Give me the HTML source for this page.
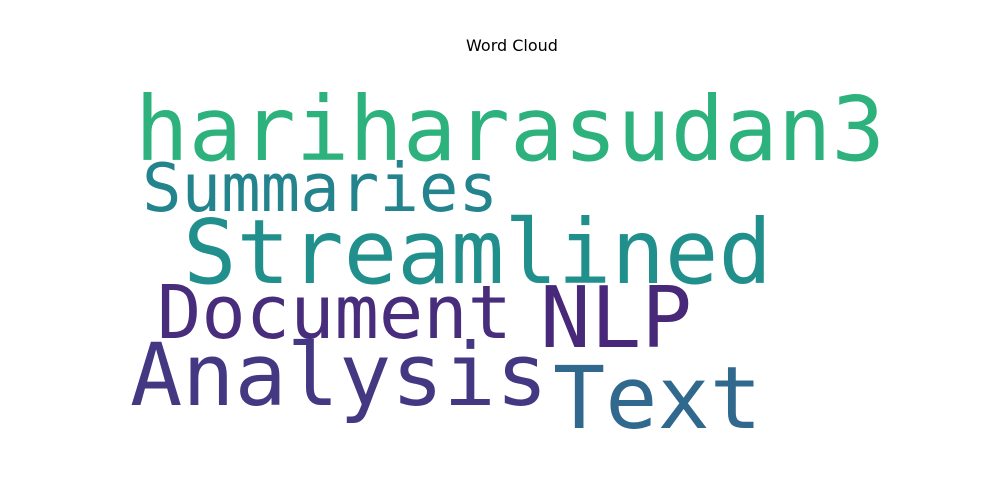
<!DOCTYPE html>
<html><head><meta charset="utf-8"><style>
html,body{margin:0;padding:0;background:#fff;width:1000px;height:500px;overflow:hidden}
svg text{font-family:"DejaVu Sans Mono","Liberation Mono",monospace}
</style></head><body>
<svg id="chart" width="1000" height="500" viewBox="0 0 1000 500">
<text x="512" y="51" text-anchor="middle" style="font-family:'DejaVu Sans','Liberation Sans',sans-serif;font-size:16px" fill="#000">Word Cloud</text>
<g id="words"></g>
</svg>
<script>
const words = ["hariharasudan3","Summaries","Streamlined","Document","NLP","Analysis","Text"];
const weights = [1.0, 0.75, 1.0, 0.83, 0.95, 0.97, 0.97];
const colors = ["#2db27d","#23848e","#21908d","#472d7b","#482878","#453882","#31688e"];
const layoutX = [135,142,183,157,540,130,553];
const layoutY = [160,211,283,338,347,405,428];
const layoutW = [750,356,589,355,152,418,209];
const g = document.getElementById('words');
const ns = "http://www.w3.org/2000/svg";
for (let i = 0; i < words.length; i++) {
  const t = document.createElementNS(ns, 'text');
  
  
  t.setAttribute('x', layoutX[i]);
  t.setAttribute('y', layoutY[i]);
  t.setAttribute('font-size', (89 * weights[i]).toFixed(1));
  t.setAttribute('fill', colors[i]);
  t.setAttribute('textLength', layoutW[i]);
  t.setAttribute('lengthAdjust', 'spacingAndGlyphs');
  t.textContent = words[i];
  g.appendChild(t);
}
</script>
</body></html>
